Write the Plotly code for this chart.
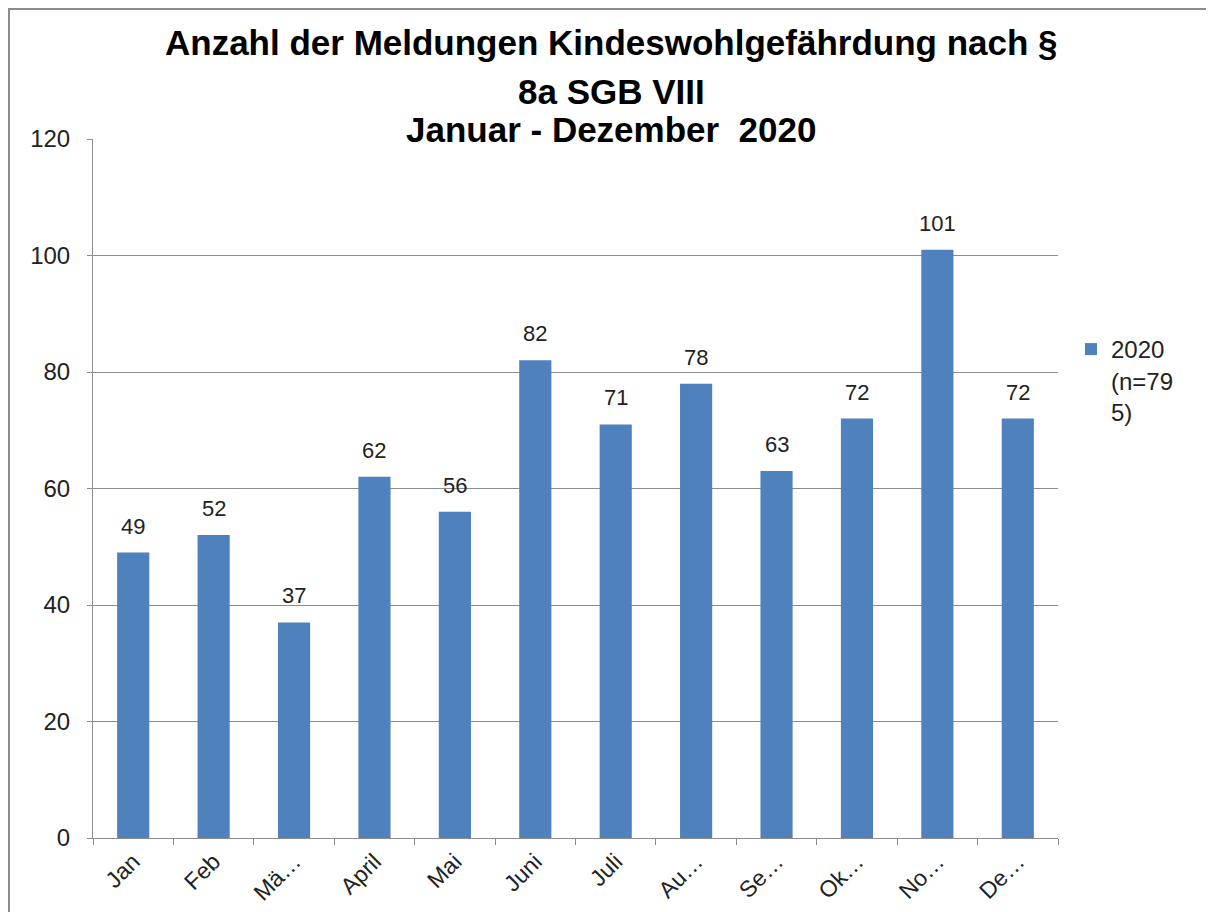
import plotly.graph_objects as go

months = ["Jan", "Feb", "Mä…", "April", "Mai", "Juni", "Juli", "Au…", "Se…", "Ok…", "No…", "De…"]
values = [49, 52, 37, 62, 56, 82, 71, 78, 63, 72, 101, 72]
series_name = "2020<br>(n=79<br>5)"
title_lines = ["Anzahl der Meldungen Kindeswohlgefährdung nach §", "8a SGB VIII", "Januar - Dezember  2020"]
y_ticks = [0, 20, 40, 60, 80, 100, 120]

label_font = "Liberation Sans, Arial, sans-serif"

W, H = 1206, 904
L, R, T, B = 85, 156, 131, 74
PW, PH = W - L - R, H - T - B


def px_x(fx):
    return (fx - L) / PW


def px_y(fy):
    return (H - B - fy) / PH


fig = go.Figure()
fig.add_trace(go.Bar(
    x=months, y=values, name=series_name,
    marker=dict(color="#4F81BD", line=dict(width=0)),
    showlegend=True,
))

# data labels above bars
for m, v in zip(months, values):
    fig.add_annotation(x=m, y=v, text=str(v), showarrow=False, xref="x", yref="y",
                       yanchor="bottom", yshift=12,
                       font=dict(size=22, color="#222222", family=label_font))

# title lines
title_pos = [35, 84, 121]
for line, fy in zip(title_lines, title_pos):
    fig.add_annotation(x=px_x(603), y=px_y(fy), xref="paper", yref="paper", text=line,
                       showarrow=False, xanchor="center", yanchor="middle",
                       font=dict(size=35, color="#000000", family="Liberation Sans, Arial, sans-serif",
                                 weight="bold"))

fig.update_layout(
    width=W, height=H,
    margin=dict(l=L, r=R, t=T, b=B, autoexpand=False),
    paper_bgcolor="white", plot_bgcolor="white",
    bargap=0.6,
    legend=dict(x=px_x(1063), y=px_y(319), xanchor="left", yanchor="top", valign="top",
                font=dict(size=24, color="#222222", family=label_font),
                itemwidth=30, bgcolor="rgba(0,0,0,0)"),
    font=dict(family=label_font, size=22, color="#222222"),
)

fig.update_yaxes(range=[0, 120], tickvals=y_ticks, showgrid=True, gridcolor="#8c8c8c", gridwidth=1,
                 showline=True, linecolor="#8c8c8c", linewidth=1, ticks="outside", ticklen=5,
                 tickcolor="#8c8c8c", zeroline=False, ticklabelstandoff=12, automargin=False,
                 tickfont=dict(size=24, color="#222222"))
fig.update_xaxes(showline=True, linecolor="#8c8c8c", linewidth=1, ticks="outside", ticklen=6,
                 tickcolor="#8c8c8c", tickson="boundaries", tickangle=-45, automargin=False,
                 tickfont=dict(size=23, color="#222222"))

# outer chart border
fig.add_shape(type="rect", xref="paper", yref="paper",
              x0=px_x(1), x1=px_x(1199),
              y0=px_y(H + 40), y1=px_y(1),
              line=dict(color="#8c8c8c", width=2), layer="below")

fig.write_html("out.html")
